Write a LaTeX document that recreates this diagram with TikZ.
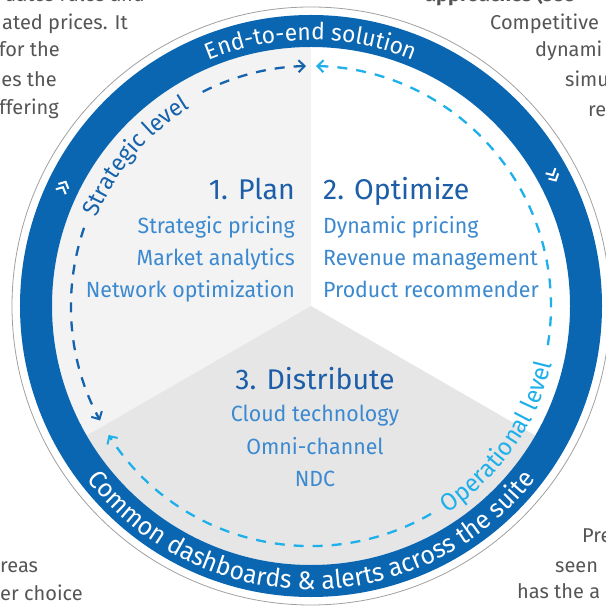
\documentclass[tikz,border=0pt]{standalone}
\usepackage{fontspec}
\setmainfont{Fira Sans}
\newfontfamily\ltf[FakeStretch=0.97]{Fira Sans}
\usetikzlibrary{decorations.text,arrows.meta}
\definecolor{ringblue}{HTML}{0B66B1}
\definecolor{headblue}{HTML}{1D5EA8}
\definecolor{subblue}{HTML}{3B89D0}
\definecolor{stratblue}{HTML}{1562AD}
\definecolor{opblue}{HTML}{1DB0EA}
\definecolor{secA}{HTML}{F3F3F3}
\definecolor{secC}{HTML}{E6E6E6}
\definecolor{bodygray}{HTML}{555555}
\definecolor{rimgray}{HTML}{A0A0A0}
\tikzset{
  bodytext/.style={text=bodygray, inner sep=0pt, font=\fontsize{20}{20}\selectfont},
  headtext/.style={text=headblue, inner sep=0pt, font=\fontsize{28.5}{28.5}\selectfont},
  subtext/.style={text=subblue, inner sep=0pt, font=\ltf\fontsize{22}{22}\selectfont},
  stratline/.style={draw=stratblue, line width=2.3pt, dash pattern=on 10pt off 9pt},
  opline/.style={draw=opblue, line width=2.3pt, dash pattern=on 10pt off 9pt},
  chev/.style={draw=white, line width=2pt}
}
\begin{document}
\begin{tikzpicture}[x=1pt,y=1pt]
\useasboundingbox (-311,-303) rectangle (294,306);
% background text fragments
\begin{scope}
\clip (-311,-303) rectangle (294,306);
\node[bodytext, anchor=base east] (tl0) at (-166,304) {dates rules and};
\node[bodytext, anchor=base west] (tl1) at (-309,276) {ated prices. It};
\node[bodytext, anchor=base east] (tl2) at (-251,249) {for the};
\node[bodytext, anchor=base east] (tl3) at (-254,219) {es the};
\node[bodytext, anchor=base east] (tl4) at (-252,191) {ffering};
\node[bodytext, anchor=base west, font=\bfseries\fontsize{20}{20}\selectfont] (tr0) at (114,304) {approaches (see};
\node[bodytext, anchor=base west] (tr1) at (179,276) {Competitive};
\node[bodytext, anchor=base west] (tr2) at (224,249) {dynami};
\node[bodytext, anchor=base west] (tr3) at (254,219) {simu};
\node[bodytext, anchor=base west] (tr4) at (277,189) {re};
\node[bodytext, anchor=base west] (bl1) at (-311,-266) {reas};
\node[bodytext, anchor=base west] (bl2) at (-311,-294) {er choice};
\node[bodytext, anchor=base west] (br1) at (271,-236) {Pre};
\node[bodytext, anchor=base west] (br2) at (244,-266) {seen};
\node[bodytext, anchor=base west] (br3) at (206,-292) {has the a};
\end{scope}
% sectors
\fill[secA] (0,0) -- (90:259) arc[start angle=90,end angle=210,radius=259] -- cycle;
\fill[white] (0,0) -- (-30:259) arc[start angle=-30,end angle=90,radius=259] -- cycle;
\fill[secC] (0,0) -- (210:259) arc[start angle=210,end angle=330,radius=259] -- cycle;
% ring
\fill[ringblue, even odd rule] (0,0) circle (291) (0,0) circle (259);
\draw[rimgray, line width=0.8pt] (0,0) circle (299);
% ring texts
\path[decorate, decoration={text along path, text align=center, text color=white,
  text={|\ltf\fontsize{23.5}{23.5}\selectfont|End-to-end solution}}]
  (180:266) arc[start angle=180,end angle=0,radius=266];
\path[decorate, decoration={text along path, text align=center, text color=white,
  text={|\ltf\fontsize{25.5}{25.5}\selectfont|Common dashboards {\&} alerts across the suite}}]
  (180:283.5) arc[start angle=180,end angle=360,radius=283.5];
% ring chevrons
\foreach \a in {154,28}{
  \begin{scope}[shift={(\a:275)}, rotate=\a-90]
    \draw[chev] (-7,5.5) -- (-2,0) -- (-7,-5.5);
    \draw[chev] (-1,5.5) -- (4,0) -- (-1,-5.5);
  \end{scope}
}
% strategic level arc
\draw[stratline, {Straight Barb[length=6pt,width=12pt,line width=2pt]}-] (91.2:240) arc[start angle=91.2,end angle=118,radius=240];
\draw[stratline, -{Straight Barb[length=6pt,width=12pt,line width=2pt]}] (161:240) arc[start angle=161,end angle=208.5,radius=240];
\path[decorate, decoration={text along path, text align=center, text color=stratblue,
  text={|\ltf\fontsize{23.5}{23.5}\selectfont|Strategic level}}]
  (175.5:232) arc[start angle=175.5,end angle=103.5,radius=232];
% operational level arc
\draw[opline, {Straight Barb[length=6pt,width=12pt,line width=2pt]}-] (88.8:240) arc[start angle=88.8,end angle=-10,radius=240];
\draw[opline, -{Straight Barb[length=6pt,width=12pt,line width=2pt]}] (-60:240) arc[start angle=-60,end angle=-147.5,radius=240];
\path[decorate, decoration={text along path, text align=center, text color=opblue,
  text={|\ltf\fontsize{24.5}{24.5}\selectfont|Operational level}}]
  (-71:248) arc[start angle=-71,end angle=1,radius=248];
% labels
\node[headtext, anchor=base east] (plan) at (-16,106) {1. Plan};
\node[subtext, anchor=base east] (p1) at (-16,72) {Strategic pricing};
\node[subtext, anchor=base east] (p2) at (-16,40) {Market analytics};
\node[subtext, anchor=base east] (p3) at (-16,8) {Network optimization};
\node[headtext, anchor=base west] (opt) at (12,106) {2. Optimize};
\node[subtext, anchor=base west] (o1) at (12,72) {Dynamic pricing};
\node[subtext, anchor=base west] (o2) at (12,40) {Revenue management};
\node[subtext, anchor=base west] (o3) at (12,8) {Product recommender};
\node[headtext, anchor=base] (dist) at (4,-84) {3. Distribute};
\node[subtext, anchor=base] (d1) at (4,-116) {Cloud technology};
\node[subtext, anchor=base] (d2) at (4,-148) {Omni-channel};
\node[subtext, anchor=base] (d3) at (4,-180) {NDC};
\end{tikzpicture}
\end{document}
